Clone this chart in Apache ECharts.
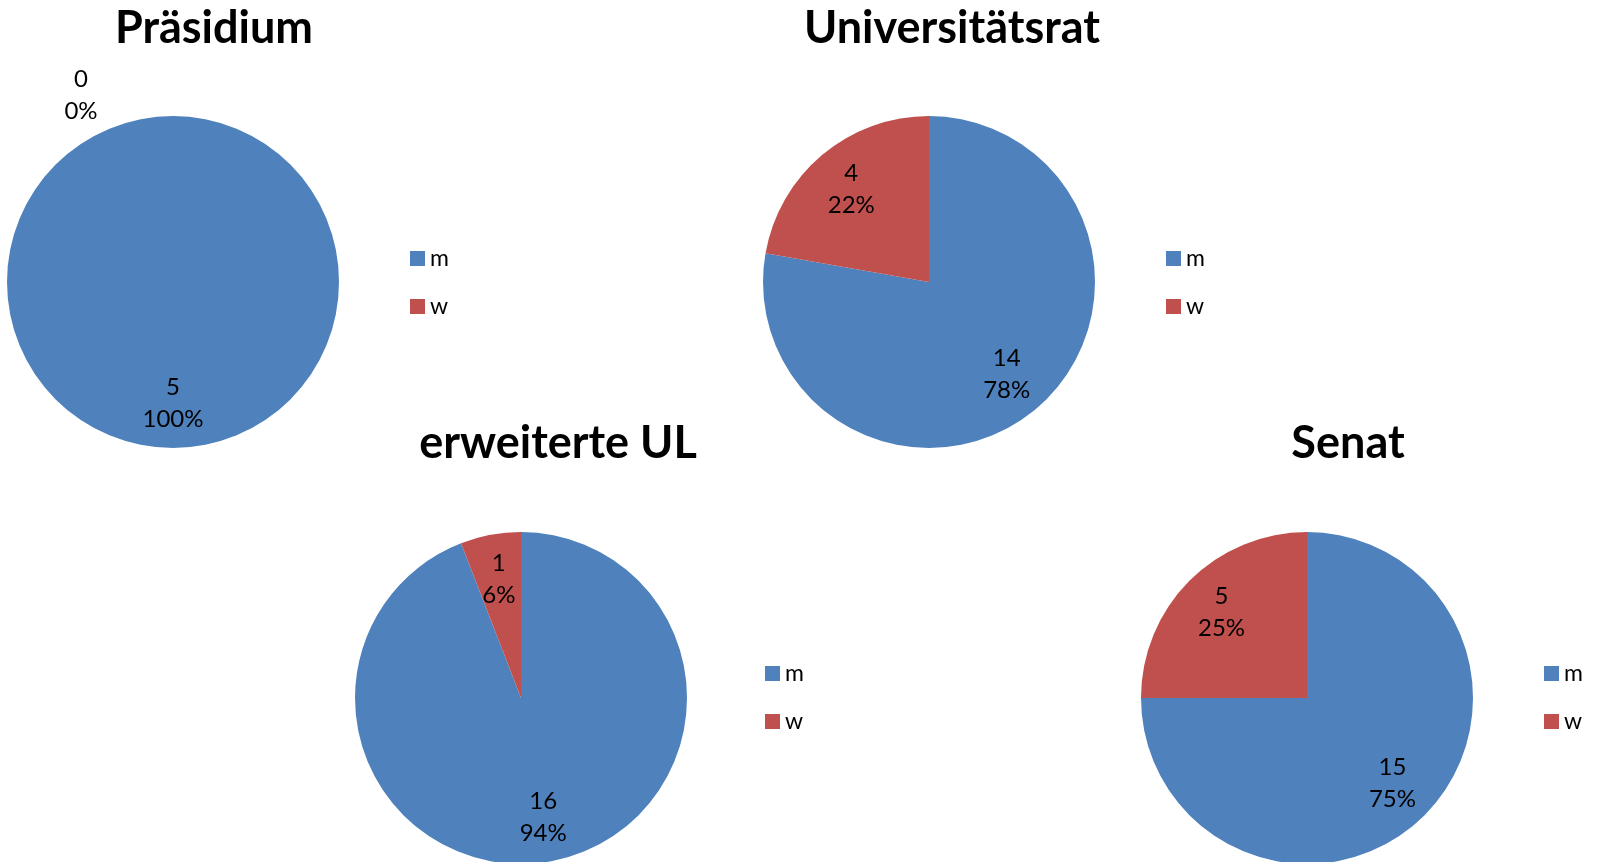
<!DOCTYPE html>
<html>
<head>
<meta charset="utf-8">
<script src="https://cdn.jsdelivr.net/npm/echarts@6/dist/echarts.min.js"></script>
<style>
html,body{margin:0;padding:0;background:#fff;}
#c{width:1598px;height:862px;}
</style>
</head>
<body>
<div id="c"></div>
<script>
const groups = ['Präsidium', 'Universitätsrat', 'erweiterte UL', 'Senat'];
const categories = ['m', 'w'];
const mValues = [5, 14, 16, 15];
const wValues = [0, 4, 1, 5];
const colors = ['#4F81BD', '#C0504D'];

// layout (positions only)
const pieCenters = [[173, 282], [929, 282], [521, 698], [1307, 698]];
const R = 166;
const titleX = [214, 952, 558, 1348];
const titleY = [28, 28, 443, 443];
const legendX = [410, 1166, 765, 1544];
const legendY = [247, 247, 662, 662];

const FONT = 'Lato, "Open Sans", sans-serif';

const chart = echarts.init(document.getElementById('c'), null, {renderer: 'canvas'});

const title = groups.map((g, i) => ({
  text: g,
  left: titleX[i],
  top: titleY[i],
  padding: 0,
  textAlign: 'center',
  textVerticalAlign: 'middle',
  textStyle: {fontFamily: FONT, fontWeight: 'bold', fontSize: 45, color: '#000'}
}));

const legend = groups.map((g, i) => ({
  data: categories,
  orient: 'vertical',
  left: legendX[i],
  top: legendY[i],
  padding: 0,
  itemWidth: 15,
  itemHeight: 15,
  itemGap: 25,
  icon: 'rect',
  selectedMode: false,
  textStyle: {fontFamily: FONT, fontSize: 23, color: '#000', lineHeight: 22}
}));

const series = [];
groups.forEach((g, i) => {
  const data = categories.map((c, k) => ({name: c, value: k === 0 ? mValues[i] : wValues[i]}));
  series.push({
    type: 'pie',
    name: g,
    center: pieCenters[i],
    radius: [0, R],
    startAngle: 90,
    clockwise: true,
    silent: true,
    animation: false,
    avoidLabelOverlap: false,
    label: {show: false},
    labelLine: {show: false},
    itemStyle: {borderWidth: 0},
    color: colors,
    data: data
  });
  // transparent overlay carrying the data labels (placed at ~0.71 R like Excel)
  series.push({
    type: 'pie',
    name: g + ' labels',
    center: pieCenters[i],
    radius: [R * 0.42, R],
    startAngle: 90,
    clockwise: true,
    silent: true,
    animation: false,
    avoidLabelOverlap: false,
    minShowLabelAngle: -1,
    itemStyle: {color: 'rgba(0,0,0,0)', borderWidth: 0},
    emphasis: {disabled: true},
    label: {
      show: true,
      position: 'inside',
      fontFamily: FONT,
      fontSize: 24,
      lineHeight: 32,
      color: '#000',
      formatter: p => p.value + '\n' + Math.round(p.percent) + '%'
    },
    labelLine: {show: false},
    labelLayout: function (p) {
      const v = p.dataIndex === 0 ? mValues[i] : wValues[i];
      if (v === 0) return {dx: -92, dy: -66};
      return {};
    },
    data: data
  });
});

chart.setOption({
  animation: false,
  color: colors,
  title: title,
  legend: legend,
  series: series
});
</script>
</body>
</html>
